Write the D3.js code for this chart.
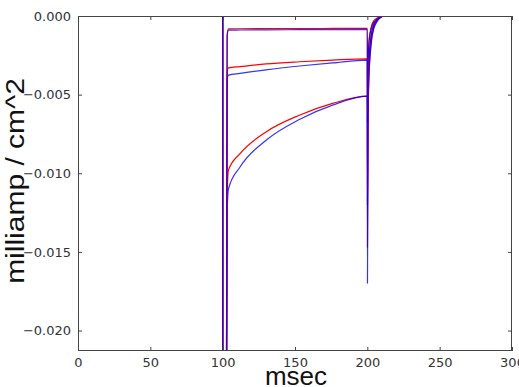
<!DOCTYPE html>
<html>
<head>
<meta charset="utf-8">
<script src="https://cdn.jsdelivr.net/npm/d3@7"></script>
<style>
  body { margin: 0; background: #fff; }
  svg { display: block; }
</style>
</head>
<body>
<div id="chart"></div>
<script>
// sample times (msec) shared by every trace
var timesMs = [0, 100, 100.1, 102.4, 103.1, 104, 112, 130, 153, 176, 200,
  200.1, 200.5, 201, 202, 203, 204.5, 206.5, 209, 212, 300];

// current traces, milliamp / cm^2
var redSmall = [0, 0, -0.06, -0.035, -0.0012, -0.00082, -0.00081, -0.0008, -0.0008, -0.00079, -0.00078,
  -0.0062, -0.0028, -0.0018, -0.001, -0.0006, -0.0003, -0.00015, -0.00005, 0, 0];
var blueSmall = [0, 0, -0.06, -0.035, -0.0013, -0.0009, -0.00089, -0.00088, -0.00087, -0.00086, -0.00085,
  -0.0068, -0.003, -0.0019, -0.0011, -0.0007, -0.0004, -0.0002, -0.00005, 0, 0];
var redMid = [0, 0, -0.06, -0.035, -0.0036, -0.0033, -0.00322, -0.00305, -0.00291, -0.0028, -0.00272,
  -0.011, -0.0048, -0.003, -0.0017, -0.001, -0.0005, -0.00025, -0.0001, 0, 0];
var blueMid = [0, 0, -0.06, -0.035, -0.0041, -0.00376, -0.00365, -0.00342, -0.00318, -0.00298, -0.0028,
  -0.012, -0.005, -0.0032, -0.0018, -0.0011, -0.0006, -0.0003, -0.0001, 0, 0];
var redBig = [0, 0, -0.06, -0.035, -0.0115, -0.0098, -0.00875, -0.00737, -0.00631, -0.00556, -0.0051,
  -0.0147, -0.0062, -0.004, -0.0023, -0.0014, -0.0007, -0.0003, -0.0001, 0, 0];
var blueBig = [0, 0, -0.06, -0.035, -0.0125, -0.011, -0.0096, -0.0079, -0.00658, -0.00567, -0.0051,
  -0.017, -0.0068, -0.0043, -0.0025, -0.0015, -0.0008, -0.0004, -0.0001, 0, 0];

var xTicks = [0, 50, 100, 150, 200, 250, 300];
var yTicks = [0, -0.005, -0.010, -0.015, -0.020];

var width = 519,
  height = 387;

var svg = d3.select('#chart').append('svg')
  .attr('width', width)
  .attr('height', height);

var x = d3.scaleLinear().domain([0, 300]).range([78, 512]);
var y = d3.scaleLinear().domain([-0.0213, 0]).range([351, 16]);

svg.append('clipPath').attr('id', 'plotclip')
  .append('rect')
  .attr('x', 78).attr('y', 16)
  .attr('width', 434).attr('height', 335);

var line = d3.line()
  .curve(d3.curveMonotoneX)
  .x(function(d) { return x(d[0]); })
  .y(function(d) { return y(d[1]); });

var traces = [
  {vals: redBig, color: '#ff0000'},
  {vals: blueBig, color: '#0000ff'},
  {vals: redMid, color: '#ff0000'},
  {vals: blueMid, color: '#0000ff'},
  {vals: redSmall, color: '#ff0000'},
  {vals: blueSmall, color: '#0000ff'}
];

var plot = svg.append('g').attr('clip-path', 'url(#plotclip)');

traces.forEach(function(tr) {
  plot.append('path')
    .datum(timesMs.map(function(t, i) { return [t, tr.vals[i]]; }))
    .attr('d', line)
    .style('fill', 'none')
    .style('stroke', tr.color)
    .style('stroke-opacity', tr.color == '#0000ff' ? 0.8 : 1)
    .style('stroke-width', 1.2)
    .style('stroke-linejoin', 'round');
});

// frame
svg.append('rect')
  .attr('x', 78.5).attr('y', 16.5)
  .attr('width', 433).attr('height', 334)
  .style('fill', 'none')
  .style('stroke', '#444')
  .style('stroke-width', 1);

// inward ticks on all four sides
var axBottom = d3.axisBottom(x).tickValues(xTicks).tickSize(-4).tickPadding(7)
  .tickFormat(d3.format('d'));
var axTop = d3.axisTop(x).tickValues(xTicks).tickSize(-4).tickFormat('');
var axLeft = d3.axisLeft(y).tickValues(yTicks).tickSize(-4).tickPadding(7)
  .tickFormat(d3.format('.3f'));
var axRight = d3.axisRight(y).tickValues(yTicks).tickSize(-4).tickFormat('');

function styleAxis(g) {
  g.select('.domain').remove();
  g.selectAll('.tick line').style('stroke', '#444');
  g.selectAll('.tick text')
    .style('font-family', 'DejaVu Sans')
    .style('font-size', '13px')
    .style('fill', '#333');
}

svg.append('g').attr('transform', 'translate(0,351)').call(axBottom).call(styleAxis);
svg.append('g').attr('transform', 'translate(0,16)').call(axTop).call(styleAxis);
svg.append('g').attr('transform', 'translate(78,0)').call(axLeft).call(styleAxis);
svg.append('g').attr('transform', 'translate(512,0)').call(axRight).call(styleAxis);

svg.append('text')
  .text('msec')
  .attr('x', 296)
  .attr('y', 385)
  .attr('text-anchor', 'middle')
  .style('font-family', 'Liberation Sans')
  .style('font-size', '26px')
  .style('fill', '#111');

svg.append('text')
  .text('milliamp / cm^2')
  .attr('transform', 'translate(24,181) rotate(-90) scale(1.2,1)')
  .attr('text-anchor', 'middle')
  .style('font-family', 'Liberation Sans')
  .style('font-size', '25px')
  .style('fill', '#111');
</script>
</body>
</html>
